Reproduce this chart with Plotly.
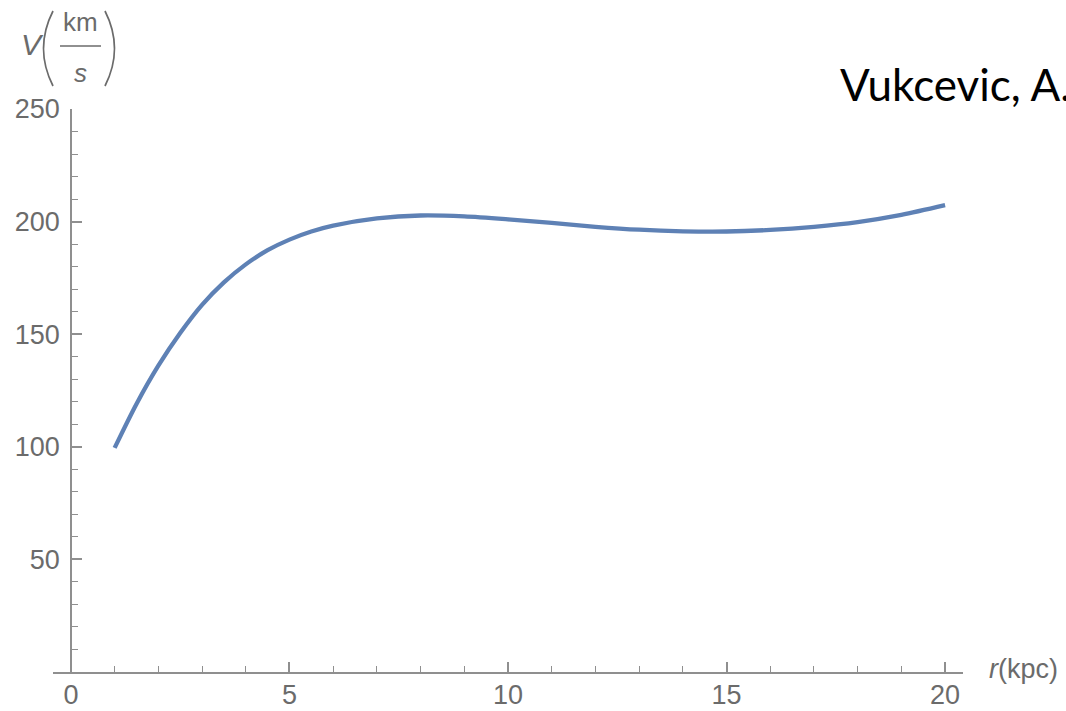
import plotly.graph_objects as go

# Rotation curve samples: radius (kpc) and orbital speed (km/s)
r_kpc = [1.0, 1.5, 2.0, 2.5, 3.0, 3.5, 4.0, 4.5, 5.0, 5.5, 6.0, 7.0, 8.0, 9.0,
         10.0, 11.0, 12.0, 13.0, 14.0, 15.0, 16.0, 17.0, 18.0, 19.0, 20.0]
v_kms = [99.5, 119.0, 136.0, 150.5, 163.0, 173.0, 181.0, 187.3, 192.0, 195.6,
         198.2, 201.4, 202.7, 202.3, 201.0, 199.4, 197.7, 196.4, 195.7, 195.6,
         196.3, 197.7, 199.8, 203.0, 207.3]

x_ticks = [0, 5, 10, 15, 20]
y_ticks = [50, 100, 150, 200, 250]

W, H = 1066, 711
L, R, T, B = 53, 963, 109, 672
X_RANGE = [-0.41, 20.41]
Y_RANGE = [0, 250]

AXIS = "#8f8f8f"
LABEL = "#6b6b6b"
TICKFONT = dict(family="Liberation Sans, Arial, sans-serif", size=27, color=LABEL)


def px(x):
    return (x - L) / (R - L)


def py(y):
    return (B - y) / (B - T)


fig = go.Figure(
    go.Scatter(
        x=r_kpc, y=v_kms, mode="lines",
        line=dict(color="#5E81B5", width=4.3, shape="spline", smoothing=0.8),
        hoverinfo="skip",
    )
)

y_axis_pos = (0 - X_RANGE[0]) / (X_RANGE[1] - X_RANGE[0])

fig.update_layout(
    width=W, height=H,
    margin=dict(l=L, r=W - R, t=T, b=H - B, autoexpand=False),
    paper_bgcolor="white", plot_bgcolor="white",
    showlegend=False,
    xaxis=dict(
        range=X_RANGE, showgrid=False, zeroline=False,
        showline=True, linecolor=AXIS, linewidth=1.5,
        tickmode="array", tickvals=x_ticks, ticktext=[str(v) for v in x_ticks],
        ticks="inside", ticklen=10, tickwidth=1.5, tickcolor=AXIS,
        minor=dict(tickmode="linear", tick0=0, dtick=1, ticks="inside",
                   ticklen=6, tickwidth=1.2, tickcolor=AXIS),
        tickfont=TICKFONT, ticklabelstandoff=-2,
    ),
    yaxis=dict(
        range=Y_RANGE, showgrid=False, zeroline=False,
        anchor="free", position=y_axis_pos,
        showline=True, linecolor=AXIS, linewidth=1.5,
        tickmode="array", tickvals=y_ticks, ticktext=[str(v) for v in y_ticks],
        ticks="inside", ticklen=10, tickwidth=1.5, tickcolor=AXIS,
        minor=dict(tickmode="linear", tick0=0, dtick=10, ticks="inside",
                   ticklen=6, tickwidth=1.2, tickcolor=AXIS),
        tickfont=TICKFONT, ticklabelstandoff=5,
    ),
)

ann = []
# x-axis label r(kpc)
ann.append(dict(x=px(987), y=py(669), xref="paper", yref="paper",
                xanchor="left", yanchor="middle", showarrow=False,
                text="<i>r</i>(kpc)", font=dict(TICKFONT, size=27)))
# y-axis label V (km / s)
ann.append(dict(x=px(32), y=py(44), xref="paper", yref="paper",
                xanchor="center", yanchor="middle", showarrow=False,
                text="<i>V</i>", font=dict(TICKFONT, size=30)))
ann.append(dict(x=px(80), y=py(22), xref="paper", yref="paper",
                xanchor="center", yanchor="middle", showarrow=False,
                text="km", font=dict(TICKFONT, size=26)))
ann.append(dict(x=px(80), y=py(73), xref="paper", yref="paper",
                xanchor="center", yanchor="middle", showarrow=False,
                text="<i>s</i>", font=dict(TICKFONT, size=26)))
# author credit
ann.append(dict(x=px(838), y=py(84), xref="paper", yref="paper",
                xanchor="left", yanchor="middle", showarrow=False,
                text="Vukcevic, A.",
                font=dict(family="Lato, Open Sans, sans-serif", size=44, color="black")))
fig.update_layout(annotations=ann)


def path(points_px):
    (x0, y0), (xc, yc), (x1, y1) = points_px
    return f"M {px(x0)},{py(y0)} Q {px(xc)},{py(yc)} {px(x1)},{py(y1)}"


shapes = [
    # fraction bar
    dict(type="line", xref="paper", yref="paper",
         x0=px(60), x1=px(101), y0=py(46), y1=py(46),
         line=dict(color=LABEL, width=1.6)),
    # parentheses
    dict(type="path", xref="paper", yref="paper",
         path=path([(53, 11), (34, 48.5), (53, 86)]),
         line=dict(color=LABEL, width=1.7)),
    dict(type="path", xref="paper", yref="paper",
         path=path([(105, 11), (124, 48.5), (105, 86)]),
         line=dict(color=LABEL, width=1.7)),
]
fig.update_layout(shapes=shapes)

fig.write_html("out.html")
